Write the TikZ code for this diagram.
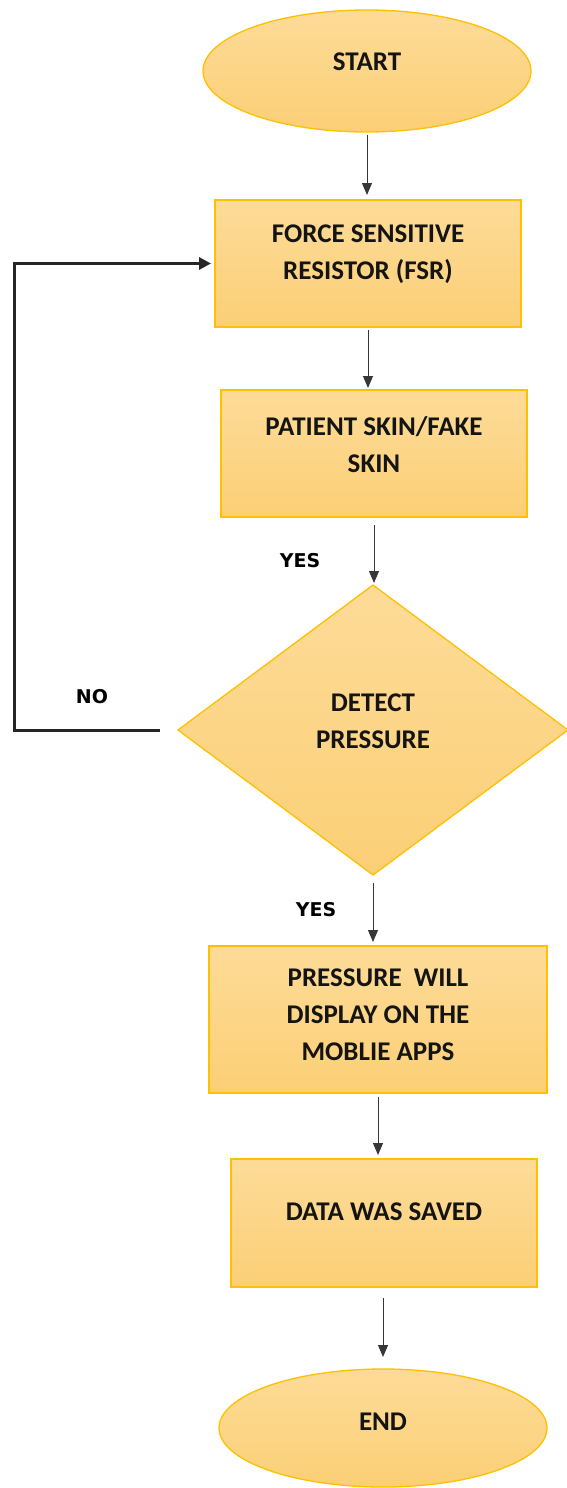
\documentclass[tikz,border=0pt]{standalone}
\usepackage{fontspec}
\setmainfont{Carlito}
\newfontfamily\lblfont{DejaVu Sans}
\usetikzlibrary{shapes.geometric,arrows.meta}
\definecolor{fillTop}{HTML}{FDDB98}
\definecolor{fillBot}{HTML}{FBCF76}
\definecolor{edgeGold}{HTML}{FFC000}
\definecolor{inkDark}{HTML}{141414}
\tikzset{
  shapebase/.style={draw=edgeGold, line width=1.3pt, top color=fillTop, bottom color=fillBot, inner sep=0pt, outer sep=0pt},
  procbox/.style={shapebase, rectangle},
  termbox/.style={shapebase, ellipse},
  decbox/.style={shapebase, diamond},
  boxtext/.style={font=\fontsize{27}{37}\selectfont\bfseries, text=inkDark, align=center, yshift=9pt},
  flowarrow/.style={draw=inkDark!85, line width=1pt, -{Triangle[length=12pt,width=10pt]}},
  looparrow/.style={draw=black!85, line width=3pt, -{Triangle[length=12pt,width=12pt]}},
  yesno/.style={font=\lblfont\bfseries\fontsize{19}{22}\selectfont, text=black}
}
\begin{document}
\begin{tikzpicture}[x=1pt,y=-1pt]
\useasboundingbox (0,0) rectangle (566,1488);
\node[termbox, minimum width=328pt, minimum height=122pt, label={[boxtext]center:START}] (start) at (367,71) {};
\node[procbox, minimum width=306pt, minimum height=127pt, label={[boxtext]center:FORCE SENSITIVE\\RESISTOR (FSR)}] (fsr) at (368,263.5) {};
\node[procbox, minimum width=306pt, minimum height=127pt, label={[boxtext]center:PATIENT SKIN/FAKE\\SKIN}] (skin) at (374,453.5) {};
\node[decbox, minimum width=390pt, minimum height=290pt, label={[boxtext]center:DETECT\\PRESSURE}] (dia) at (373,730) {};
\node[procbox, minimum width=338pt, minimum height=147pt, label={[boxtext, yshift=-4pt]center:PRESSURE\ \ WILL\\DISPLAY ON THE\\MOBLIE APPS}] (disp) at (378,1019.5) {};
\node[procbox, minimum width=306pt, minimum height=128pt, label={[boxtext, yshift=2pt]center:DATA WAS SAVED}] (save) at (384,1223) {};
\node[termbox, minimum width=328pt, minimum height=118pt, label={[boxtext, yshift=-3pt]center:END}] (end) at (383,1428) {};

\node[yesno] (yes1) at (300,561) {YES};
\node[yesno] (no1) at (92,697) {NO};
\node[yesno] (yes2) at (316,910) {YES};

\coordinate (loopc) at (14,730);

\draw[flowarrow, shorten <=3pt, shorten >=5pt] (start.south) -- (start.south |- fsr.north);
\draw[flowarrow, shorten <=3pt, shorten >=2pt] (fsr.south) -- (fsr.south |- skin.north);
\draw[flowarrow, shorten <=8pt, shorten >=2pt] (skin.south) -- (skin.south |- dia.north);
\draw[flowarrow, shorten <=8pt, shorten >=4pt] (dia.south) -- (dia.south |- disp.north);
\draw[flowarrow, shorten <=4pt, shorten >=4pt] (disp.south) -- (disp.south |- save.north);
\draw[flowarrow, shorten <=11pt, shorten >=12pt] (save.south -| end.north) -- (end.north);
\draw[looparrow, line join=miter, shorten <=18pt, shorten >=4pt] (dia.west) -- (loopc) |- (fsr.west);
\end{tikzpicture}
\end{document}
